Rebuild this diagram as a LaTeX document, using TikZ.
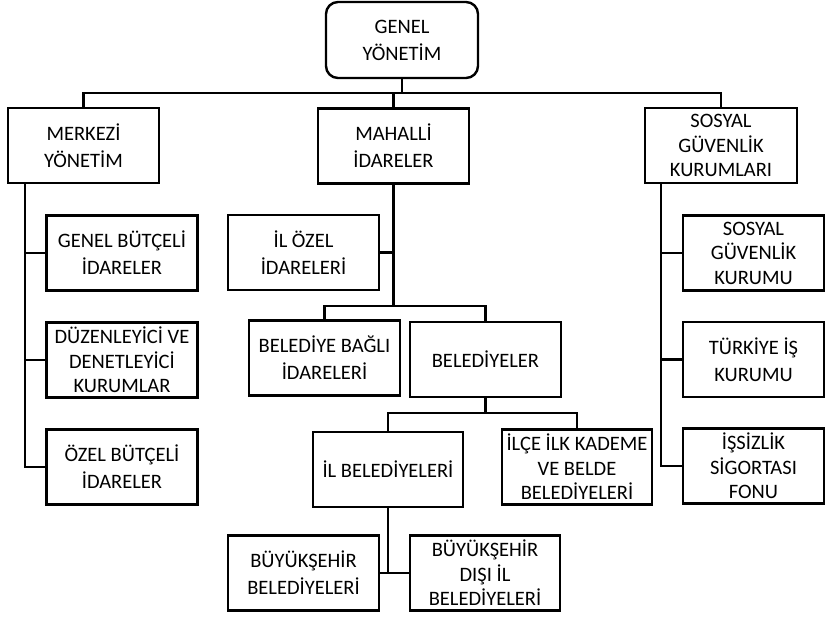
\documentclass[tikz,border=0pt]{standalone}
\usepackage{fontspec}
\setmainfont{Carlito}
\begin{document}
\begin{tikzpicture}[x=1pt,y=-1pt,
  box/.style={draw, line width=2.4pt, align=center, inner sep=0pt,
    minimum width=151pt, minimum height=75pt,
    font=\fontsize{20.5}{24.5}\selectfont},
  twoline/.style={font=\fontsize{20.5}{27}\selectfont},
  rbox/.style={box, minimum width=141pt},
  conn/.style={line width=2.4pt}]
\useasboundingbox (0,0) rectangle (826,617);
% nodes
\node[box, twoline, rounded corners=12pt, minimum width=152pt, minimum height=76pt] (genel) at (402,40) {GENEL\\YÖNETİM};
\node[box, twoline] (merkezi) at (83.5,145.5) {MERKEZİ\\YÖNETİM};
\node[box, twoline] (mahalli) at (393.5,146) {MAHALLİ\\İDARELER};
\node[box, minimum width=152pt] (sosyal) at (721,145.5) {SOSYAL\\GÜVENLİK\\KURUMLARI};
\node[box, twoline] (gbi) at (122,253) {GENEL BÜTÇELİ\\İDARELER};
\node[box] (duz) at (122,360) {DÜZENLEYİCİ VE\\DENETLEYİCİ\\KURUMLAR};
\node[box, twoline] (ozel) at (122,467) {ÖZEL BÜTÇELİ\\İDARELER};
\node[box, twoline] (ilozel) at (303.5,252.5) {İL ÖZEL\\İDARELERİ};
\node[box, twoline] (bbi) at (324.5,358) {BELEDİYE BAĞLI\\İDARELERİ};
\node[box] (bel) at (485.5,359.5) {BELEDİYELER};
\node[box, minimum width=150pt] (ilbel) at (388,469.5) {İL BELEDİYELERİ};
\node[box, minimum width=150pt] (ilce) at (577,467) {İLÇE İLK KADEME\\VE BELDE\\BELEDİYELERİ};
\node[box, twoline] (buyuk) at (303.5,573) {BÜYÜKŞEHİR\\BELEDİYELERİ};
\node[box, minimum width=150pt] (dis) at (485,573) {BÜYÜKŞEHİR\\DIŞI İL\\BELEDİYELERİ};
\node[rbox] (sgk) at (753.5,253) {SOSYAL\\GÜVENLİK\\KURUMU};
\node[rbox, twoline] (tik) at (753.5,359.5) {TÜRKİYE İŞ\\KURUMU};
\node[rbox] (isf) at (753.5,466) {İŞSİZLİK\\SİGORTASI\\FONU};
% helper coordinates
\coordinate (bar1) at (0,93);
\coordinate (bar2) at (0,306);
\coordinate (bar3) at (0,413);
\coordinate (ml) at (25,0);
\coordinate (sr) at (661,0);
% top level
\draw[conn] (genel.south) -- (genel.south |- bar1);
\draw[conn] (merkezi.north) -- (merkezi.north |- bar1) -- (sosyal.north |- bar1) -- (sosyal.north);
\draw[conn] (mahalli.north) -- (mahalli.north |- bar1);
% merkezi
\draw[conn] (merkezi.south -| ml) -- (ozel.west -| ml) -- (ozel.west);
\draw[conn] (gbi.west -| ml) -- (gbi.west);
\draw[conn] (duz.west -| ml) -- (duz.west);
% mahalli
\draw[conn] (mahalli.south) -- (mahalli.south |- bar2);
\draw[conn] (ilozel.east) -- (ilozel.east -| mahalli.south);
\draw[conn] (bbi.north) -- (bbi.north |- bar2) -- (bel.north |- bar2) -- (bel.north);
\draw[conn] (bel.south) -- (bel.south |- bar3);
\draw[conn] (ilbel.north) -- (ilbel.north |- bar3) -- (ilce.north |- bar3) -- (ilce.north);
\draw[conn] (ilbel.south) -- (ilbel.south |- buyuk.east);
\draw[conn] (buyuk.east) -- (dis.west);
% sosyal
\draw[conn] (sosyal.south -| sr) -- (isf.west -| sr) -- (isf.west);
\draw[conn] (sgk.west -| sr) -- (sgk.west);
\draw[conn] (tik.west -| sr) -- (tik.west);
\end{tikzpicture}
\end{document}
